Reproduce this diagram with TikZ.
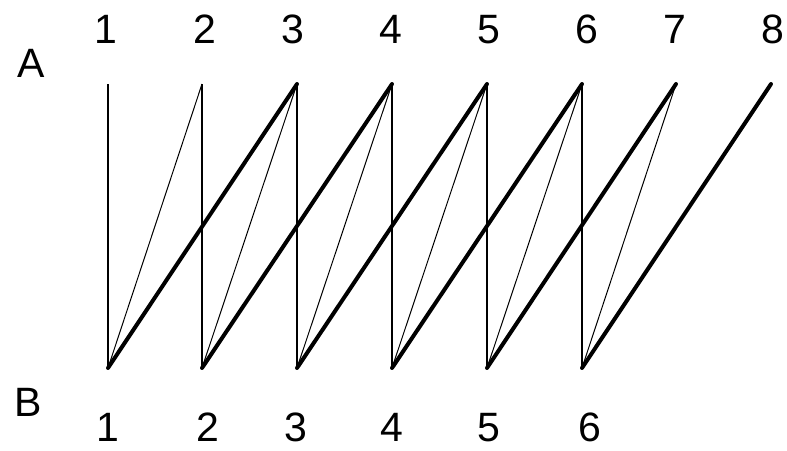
\documentclass[tikz,border=0pt]{standalone}
\usepackage{fontspec}
\setmainfont{Liberation Sans}
\begin{document}
\begin{tikzpicture}[x=1pt,y=-1pt,
  lbl/.style={font=\fontsize{41}{41}\selectfont, inner sep=0pt, anchor=base},
  vertlink/.style={line width=2pt},
  thinlink/.style={line width=1pt},
  heavylink/.style={line width=4pt, line cap=round}]
\useasboundingbox (0,0) rectangle (787,450);
% points
\coordinate (a1) at (108,84);
\coordinate (a2) at (202,84);
\coordinate (a3) at (297,84);
\coordinate (a4) at (392,84);
\coordinate (a5) at (487,84);
\coordinate (a6) at (582,84);
\coordinate (a7) at (676,84);
\coordinate (a8) at (771,84);
\coordinate (b1) at (108,368);
\coordinate (b2) at (202,368);
\coordinate (b3) at (297,368);
\coordinate (b4) at (392,368);
\coordinate (b5) at (487,368);
\coordinate (b6) at (582,368);
% verticals
\foreach \i in {1,...,6} \draw[vertlink] (a\i) -- (b\i);
% thin diagonals
\foreach \i/\j in {1/2,2/3,3/4,4/5,5/6,6/7} \draw[thinlink] (b\i) -- (a\j);
% thick diagonals
\foreach \i/\j in {1/3,2/4,3/5,4/6,5/7,6/8} \draw[heavylink] (b\i) -- (a\j);
% labels
\node[lbl] (la) at (31,77) {A};
\node[lbl] (lb) at (28,416) {B};
\node[lbl] (t1) at (106,43) {1};
\node[lbl] (t2) at (205,43) {2};
\node[lbl] (t3) at (293,43) {3};
\node[lbl] (t4) at (391,43) {4};
\node[lbl] (t5) at (489,43) {5};
\node[lbl] (t6) at (587,43) {6};
\node[lbl] (t7) at (675,43) {7};
\node[lbl] (t8) at (773,43) {8};
\node[lbl] (u1) at (108,441) {1};
\node[lbl] (u2) at (208,441) {2};
\node[lbl] (u3) at (296,441) {3};
\node[lbl] (u4) at (392,441) {4};
\node[lbl] (u5) at (489,441) {5};
\node[lbl] (u6) at (590,441) {6};
\end{tikzpicture}
\end{document}
